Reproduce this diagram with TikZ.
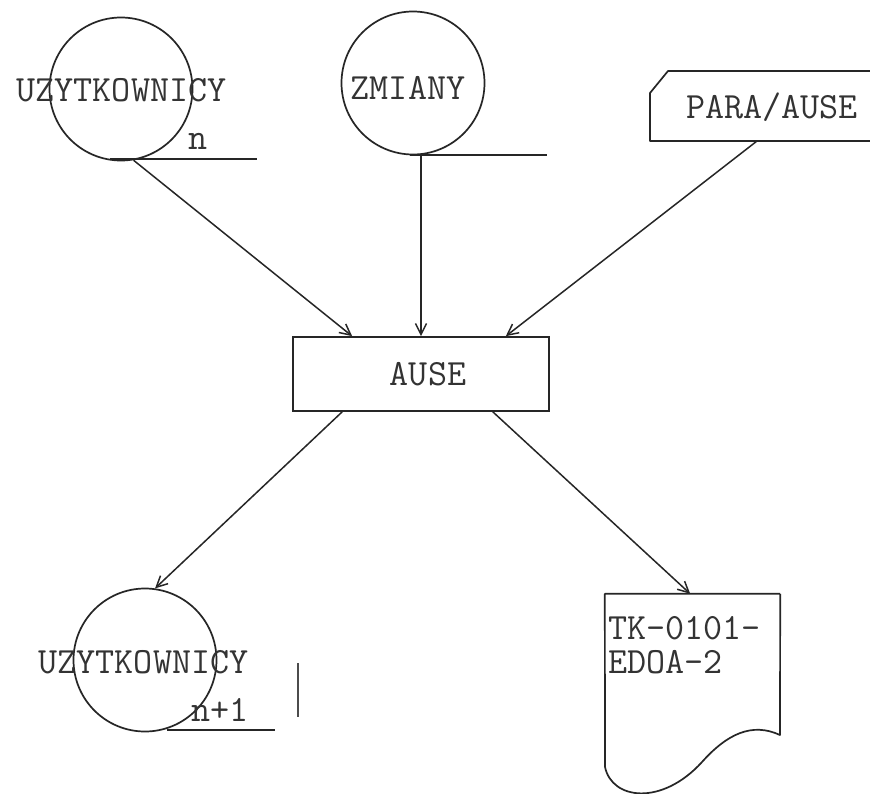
\documentclass[tikz,border=0pt]{standalone}
\usepackage{fontspec}
\usetikzlibrary{arrows.meta}
\tikzset{
  ink/.style={draw=black!85, line width=1.7pt},
  circ/.style={ink, circle, minimum size=143pt, inner sep=0pt},
  lbl/.style={text=black!80, font=\ttfamily\fontsize{37}{42}\selectfont, inner sep=0pt},
  conn/.style={draw=black!85, line width=1.5pt, -{Straight Barb[length=11pt,width=11pt]}},
}
\begin{document}
\begin{tikzpicture}[x=1pt,y=-1pt]
\useasboundingbox (0,0) rectangle (870,793);
\fill[white] (0,0) rectangle (870,793);

% top left circle
\node[circ] (u1) at (121,89) {};
\node[lbl] (u1t) at (121.5,90) {UZYTKOWNICY};
\node[lbl] (u1n) at (198,141) {n};
\coordinate (u1a) at (110,159);
\coordinate (u1b) at (257,159);
\draw[ink] (u1a) -- (u1b);

% top middle circle
\node[circ] (z) at (413,83) {};
\node[lbl] (zt) at (408,88) {ZMIANY};
\coordinate (za) at (410,155);
\coordinate (zb) at (547,155);
\draw[ink] (za) -- (zb);

% parameter card
\node[lbl] (pt) at (772,107) {PARA/AUSE};
\coordinate (p1) at (870,71);
\coordinate (p2) at (668,71);
\coordinate (p3) at (650,93);
\coordinate (p4) at (650,141);
\coordinate (p5) at (870,141);
\draw[ink, line join=round] (p1) -- (p2) -- (p3) -- (p4) -- (p5);
\coordinate (pout) at (757,141);

% process box
\node[ink, minimum width=256pt, minimum height=74pt, inner sep=0pt] (ause) at (421,374) {};
\node[lbl] (auset) at (428,374) {AUSE};

% bottom left circle
\node[circ] (u2) at (145,660) {};
\node[lbl] (u2t) at (143.5,662) {UZYTKOWNICY};
\node[lbl] (u2n) at (220,710) {n+1};
\coordinate (u2a) at (167,730);
\coordinate (u2b) at (275,730);
\draw[ink] (u2a) -- (u2b);

% stray mark
\coordinate (s1) at (298,663);
\coordinate (s2) at (298,717);
\draw[draw=black!70, line width=1.2pt] (s1) -- (s2);

% document
\node[minimum width=175pt, minimum height=141pt, inner sep=0pt] (doc) at (692.5,664.5) {};
\draw[ink, line join=round] (doc.north east) -- (doc.north west) -- (605,767)
  .. controls (612,800) and (662,806) .. (702,762)
  .. controls (727,734) and (752,722) .. (780,735) -- (doc.north east);
\node[lbl, anchor=west] (d1) at (608,628) {TK-0101-};
\node[lbl, anchor=west] (d2) at (608,662) {EDOA-2};

% connectors
\draw[conn] (u1.-80) -- ([xshift=60pt]ause.north west);
\draw[conn] (za -| ause.north) -- (ause.north);
\draw[conn] (pout) -- ([xshift=-44pt]ause.north east);
\draw[conn] ([xshift=50pt]ause.south west) -- (u2.82);
\draw[conn] ([xshift=-57pt]ause.south east) -- ([xshift=-90pt]doc.north east);
\end{tikzpicture}
\end{document}
